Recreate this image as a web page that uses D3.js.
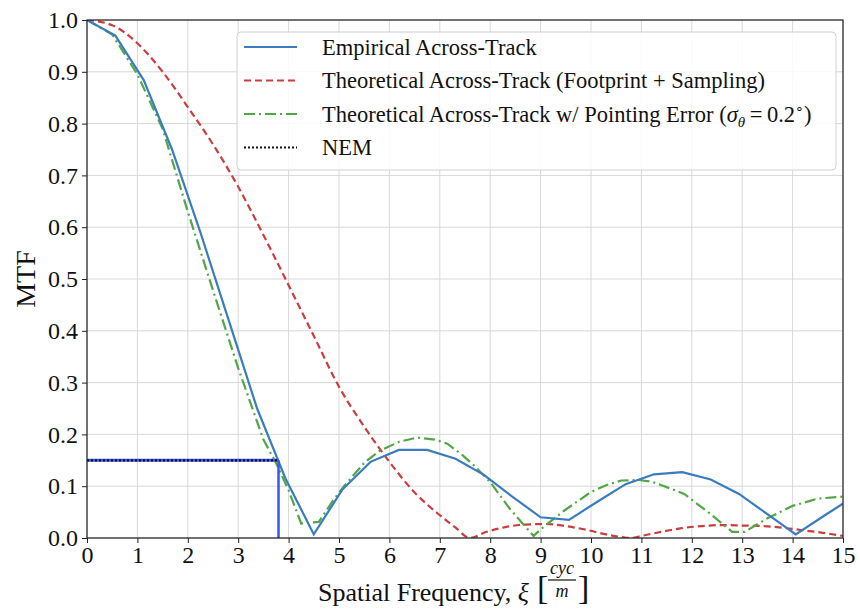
<!DOCTYPE html>
<html>
<head>
<meta charset="utf-8">
<script src="https://cdn.jsdelivr.net/npm/d3@7"></script>
<style>
  body { margin: 0; background: #fff; }
  text { font-family: "Liberation Serif", "Times New Roman", serif; }
</style>
</head>
<body>
<script>
// axis ticks
var xTicks = [0, 1, 2, 3, 4, 5, 6, 7, 8, 9, 10, 11, 12, 13, 14, 15];
var yTicks = [0, 0.1, 0.2, 0.3, 0.4, 0.5, 0.6, 0.7, 0.8, 0.9, 1.0];

// empirical across-track MTF (sampled)
var empX = [0, 0.5625, 1.125, 1.6875, 2.25, 2.8125, 3.375, 3.9375, 4.5, 5.0625, 5.625, 6.1875, 6.75, 7.3125,
  7.875, 8.4375, 9.0, 9.5625, 10.125, 10.6875, 11.25, 11.8125, 12.375, 12.9375, 13.5, 14.0625, 14.625, 15.1875];
var empY = [1.0, 0.97, 0.884, 0.75, 0.59, 0.42, 0.25, 0.115, 0.007, 0.093, 0.147, 0.17, 0.17, 0.153,
  0.122, 0.08, 0.04, 0.035, 0.07, 0.104, 0.123, 0.127, 0.113, 0.085, 0.046, 0.007, 0.043, 0.078];

// theoretical (footprint + sampling)
var theoX = [0, 0.5, 1, 1.5, 2, 2.5, 3, 3.5, 4, 4.5, 5, 5.5, 6, 6.5, 7, 7.3, 7.6, 7.9, 8.3, 8.7, 9.1, 9.5,
  9.9, 10.3, 10.6, 10.8, 11.0, 11.4, 11.8, 12.2, 12.6, 13.0, 13.4, 13.8, 14.2, 14.6, 15];
var theoY = [1.0, 0.99, 0.955, 0.9, 0.832, 0.76, 0.678, 0.585, 0.488, 0.39, 0.292, 0.215, 0.147, 0.088, 0.044, 0.021, 0.0,
  0.011, 0.021, 0.026, 0.027, 0.023, 0.016, 0.007, 0.002, 0.0, 0.004, 0.012, 0.019, 0.023, 0.025, 0.024, 0.023, 0.02, 0.015, 0.01, 0.004];

// theoretical with pointing error
var pointX = [0, 0.5, 1, 1.5, 2, 2.5, 3, 3.5, 3.75, 4.0, 4.25, 4.6, 4.85, 5.1, 5.5, 5.8, 6.2, 6.55, 6.9, 7.15, 7.45,
  7.7, 8.0, 8.4, 8.86, 9.1, 9.5, 10.0, 10.3, 10.6, 10.95, 11.2, 11.4, 11.85, 12.35, 12.8, 13.05, 13.5, 14.0, 14.5, 15];
var pointY = [1.0, 0.972, 0.895, 0.79, 0.63, 0.478, 0.328, 0.19, 0.145, 0.092, 0.028, 0.031, 0.068, 0.1, 0.145, 0.168, 0.186, 0.194, 0.19, 0.182, 0.16,
  0.138, 0.108, 0.055, 0.004, 0.025, 0.055, 0.089, 0.102, 0.111, 0.112, 0.109, 0.102, 0.085, 0.048, 0.012, 0.012, 0.038, 0.062, 0.076, 0.08];

// NEM marker
var nemX = 3.8;
var nemY = 0.15;

var width = 860, height = 610;
var margin = { left: 87, right: 17, top: 20, bottom: 72 };

var svg = d3.select("body").append("svg").attr("width", width).attr("height", height);

var x = d3.scaleLinear().domain([0, 15]).range([margin.left, width - margin.right]);
var y = d3.scaleLinear().domain([0, 1]).range([height - margin.bottom, margin.top]);

svg.append("defs").append("clipPath").attr("id", "plot")
  .append("rect")
  .attr("x", x(0)).attr("y", y(1))
  .attr("width", x(15) - x(0)).attr("height", y(0) - y(1));

// grid
svg.append("g").selectAll("line").data(xTicks).join("line")
  .attr("x1", d => x(d)).attr("x2", d => x(d))
  .attr("y1", y(0)).attr("y2", y(1))
  .attr("stroke", "#d8d8d8").attr("stroke-width", 1);
svg.append("g").selectAll("line").data(yTicks).join("line")
  .attr("x1", x(0)).attr("x2", x(15))
  .attr("y1", d => y(d)).attr("y2", d => y(d))
  .attr("stroke", "#d8d8d8").attr("stroke-width", 1);

// axes
var xAxis = svg.append("g")
  .attr("transform", "translate(0," + y(0) + ")")
  .call(d3.axisBottom(x).tickValues(xTicks).tickFormat(d3.format("d")).tickSize(5).tickPadding(3));
var yAxis = svg.append("g")
  .attr("transform", "translate(" + x(0) + ",0)")
  .call(d3.axisLeft(y).tickValues(yTicks).tickFormat(d3.format(".1f")).tickSize(5).tickPadding(4));
[xAxis, yAxis].forEach(function (g) {
  g.attr("font-family", null).attr("font-size", null);
  g.select(".domain").remove();
  g.selectAll("text").attr("font-size", 24).attr("fill", "#111");
  g.selectAll("line").attr("stroke", "#222");
});

function lineOf(xs, ys, curve) {
  return d3.line()
    .x(function (d, i) { return x(xs[i]); })
    .y(function (d) { return y(d); })
    .curve(curve)(ys);
}

var plot = svg.append("g").attr("clip-path", "url(#plot)");

plot.append("path")
  .attr("d", lineOf(theoX, theoY, d3.curveMonotoneX))
  .attr("fill", "none").attr("stroke", "#cc3d3d").attr("stroke-width", 2.2)
  .attr("stroke-dasharray", "7,4");

plot.append("path")
  .attr("d", lineOf(pointX, pointY, d3.curveLinear))
  .attr("fill", "none").attr("stroke", "#52a645").attr("stroke-width", 2.2)
  .attr("stroke-dasharray", "11,4,2,4");

plot.append("path")
  .attr("d", lineOf(empX, empY, d3.curveLinear))
  .attr("fill", "none").attr("stroke", "#3a7cbd").attr("stroke-width", 2.2);

// NEM lines
plot.append("line")
  .attr("x1", x(nemX)).attr("x2", x(nemX)).attr("y1", y(0)).attr("y2", y(nemY))
  .attr("stroke", "#3556f0").attr("stroke-width", 2.5);
plot.append("line")
  .attr("x1", x(0)).attr("x2", x(nemX)).attr("y1", y(nemY)).attr("y2", y(nemY))
  .attr("stroke", "#3556f0").attr("stroke-width", 3);
plot.append("line")
  .attr("x1", x(0)).attr("x2", x(nemX)).attr("y1", y(nemY)).attr("y2", y(nemY))
  .attr("stroke", "#111").attr("stroke-width", 2.2).attr("stroke-dasharray", "2,2");

// frame
svg.append("rect")
  .attr("x", x(0)).attr("y", y(1))
  .attr("width", x(15) - x(0)).attr("height", y(0) - y(1))
  .attr("fill", "none").attr("stroke", "#222").attr("stroke-width", 1.2);

// legend
var legend = svg.append("g").attr("transform", "translate(237,32)");
legend.append("rect")
  .attr("width", 599).attr("height", 138).attr("rx", 4)
  .attr("fill", "#fff").attr("fill-opacity", 0.85)
  .attr("stroke", "#d0d0d0").attr("stroke-width", 1);

var items = [
  { color: "#3a7cbd", dash: null },
  { color: "#cc3d3d", dash: "7,4" },
  { color: "#52a645", dash: "11,4,2,4" },
  { color: "#111", dash: "2,2" }
];
items.forEach(function (it, i) {
  var cy = 15 + i * 33.5;
  legend.append("line")
    .attr("x1", 7).attr("x2", 60).attr("y1", cy).attr("y2", cy)
    .attr("stroke", it.color).attr("stroke-width", 2.2)
    .attr("stroke-dasharray", it.dash);
});

function legendText(i) {
  return legend.append("text")
    .attr("x", 85).attr("y", 15 + i * 33.5).attr("dy", "0.34em")
    .attr("font-size", 22.5).attr("fill", "#111");
}
legendText(0).text("Empirical Across-Track");
legendText(1).text("Theoretical Across-Track (Footprint + Sampling)");
var t3 = legendText(2);
t3.append("tspan").text("Theoretical Across-Track w/ Pointing Error (");
t3.append("tspan").attr("font-style", "italic").text("σ");
t3.append("tspan").attr("font-style", "italic").attr("font-size", 15).attr("dy", 5).text("θ");
t3.append("tspan").attr("dy", -5).text("\u2009=\u20090.2");
t3.append("tspan").attr("font-size", 14).attr("dy", -9).text("∘");
t3.append("tspan").attr("dy", 9).text(")");
legendText(3).text("NEM");

// axis labels
svg.append("text")
  .attr("transform", "translate(35," + ((y(0) + y(1)) / 2) + ") rotate(-90)")
  .attr("text-anchor", "middle")
  .attr("font-size", 28).attr("fill", "#111")
  .text("MTF");

var xl = svg.append("text")
  .attr("x", 318).attr("y", 601)
  .attr("font-size", 26).attr("fill", "#111");
xl.append("tspan").text("Spatial Frequency, ");
xl.append("tspan").attr("font-style", "italic").text("ξ");

var fx = 537;
svg.append("text").attr("x", fx).attr("y", 599)
  .attr("font-size", 34).attr("fill", "#111").text("[");
svg.append("text").attr("x", fx + 25).attr("y", 574).attr("text-anchor", "middle")
  .attr("font-size", 18).attr("font-style", "italic").attr("fill", "#111").text("cyc");
svg.append("line")
  .attr("x1", fx + 11).attr("x2", fx + 39).attr("y1", 580).attr("y2", 580)
  .attr("stroke", "#111").attr("stroke-width", 1.2);
svg.append("text").attr("x", fx + 25).attr("y", 597).attr("text-anchor", "middle")
  .attr("font-size", 18).attr("font-style", "italic").attr("fill", "#111").text("m");
svg.append("text").attr("x", fx + 41).attr("y", 599)
  .attr("font-size", 34).attr("fill", "#111").text("]");
</script>
</body>
</html>
